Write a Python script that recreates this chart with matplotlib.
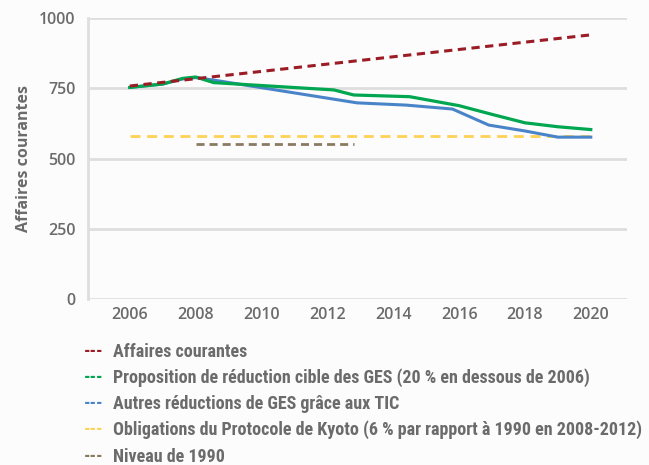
import matplotlib
matplotlib.use("Agg")
import matplotlib.pyplot as plt

# ---- data ----
bau_years = [2006, 2020]
bau_values = [758, 940]

target_years = [2006, 2007, 2007.6, 2008, 2008.55, 2012.2, 2012.8, 2014.5, 2016, 2017, 2018, 2019, 2020]
target_values = [753, 765, 785, 790, 770, 744, 726, 720, 688, 657, 627, 613, 603]

ict_years = [2006, 2007, 2007.6, 2008, 2008.55, 2012.9, 2014.4, 2015.8, 2016.9, 2018, 2019, 2020]
ict_values = [753, 765, 783, 788, 779, 698, 690, 676, 619, 598, 576, 576]

kyoto_years = [2006, 2020]
kyoto_values = [580, 580]

level1990_years = [2008, 2012.8]
level1990_values = [550, 550]

xticks = [2006, 2008, 2010, 2012, 2014, 2016, 2018, 2020]
yticks = [0, 250, 500, 750, 1000]

legend_labels = [
    "Affaires courantes",
    "Proposition de réduction cible des GES (20 % en dessous de 2006)",
    "Autres réductions de GES grâce aux TIC",
    "Obligations du Protocole de Kyoto (6 % par rapport à 1990 en 2008-2012)",
    "Niveau de 1990",
]

# ---- style ----
c_red = "#9b1c25"
c_green = "#00a650"
c_blue = "#4a84c8"
c_yellow = "#ffd257"
c_brown = "#8a7a62"
c_text = "#6b6b6b"
c_grid = "#dedede"
colors = [c_red, c_green, c_blue, c_yellow, c_brown]

fig = plt.figure(figsize=(6.49, 4.65), dpi=100, facecolor="#fcfcfc")
ax = fig.add_axes([88/649, 1-299/465, (627-88)/649, (299-18)/465])
ax.set_facecolor("none")

ax.plot(ict_years, ict_values, color=c_blue, lw=2.2, solid_joinstyle="round", zorder=3)
ax.plot(target_years, target_values, color=c_green, lw=2.3, solid_joinstyle="round", zorder=4)
ax.plot(bau_years, bau_values, color=c_red, lw=2.2, linestyle=(0, (2.7, 1.8)), zorder=5)
ax.plot(kyoto_years, kyoto_values, color=c_yellow, lw=2.0, linestyle=(0, (3.6, 2.4)), zorder=2)
ax.plot(level1990_years, level1990_values, color=c_brown, lw=2.0, linestyle=(0, (2.9, 1.8)), zorder=2)

ax.set_xlim(2004.73, 2021.1)
ax.set_ylim(0, 1000)
ax.set_yticks(yticks)
ax.set_xticks(xticks)
ax.grid(axis="y", color=c_grid, lw=2)
ax.set_axisbelow(True)
for s in ["top", "right", "bottom"]:
    ax.spines[s].set_visible(False)
ax.spines["left"].set_color(c_grid)
ax.spines["left"].set_linewidth(2)
ax.tick_params(length=0, labelcolor=c_text, labelsize=11.5)
ax.tick_params(axis="y", pad=9)
ax.tick_params(axis="x", pad=6)
for lab in ax.get_xticklabels() + ax.get_yticklabels():
    lab.set_fontweight("semibold")
    lab.set_fontfamily("Open Sans")

ax.set_ylabel("Affaires courantes", color=c_text, fontsize=11.5, fontweight="bold",
              family="Open Sans", labelpad=5)

# legend as text rows
rows_y = [352, 378, 404, 430, 457]
for lab, col, yy in zip(legend_labels, colors, rows_y):
    fig.text(84/649, 1-yy/465, "---", color=col, fontsize=13, fontweight="bold",
             family="Roboto Condensed", va="center", ha="left")
    fig.text(113/649, 1-yy/465, lab, color=c_text, fontsize=13, fontweight="bold",
             family="Roboto Condensed", va="center", ha="left")

fig.savefig("out.png", dpi=100, facecolor=fig.get_facecolor())
